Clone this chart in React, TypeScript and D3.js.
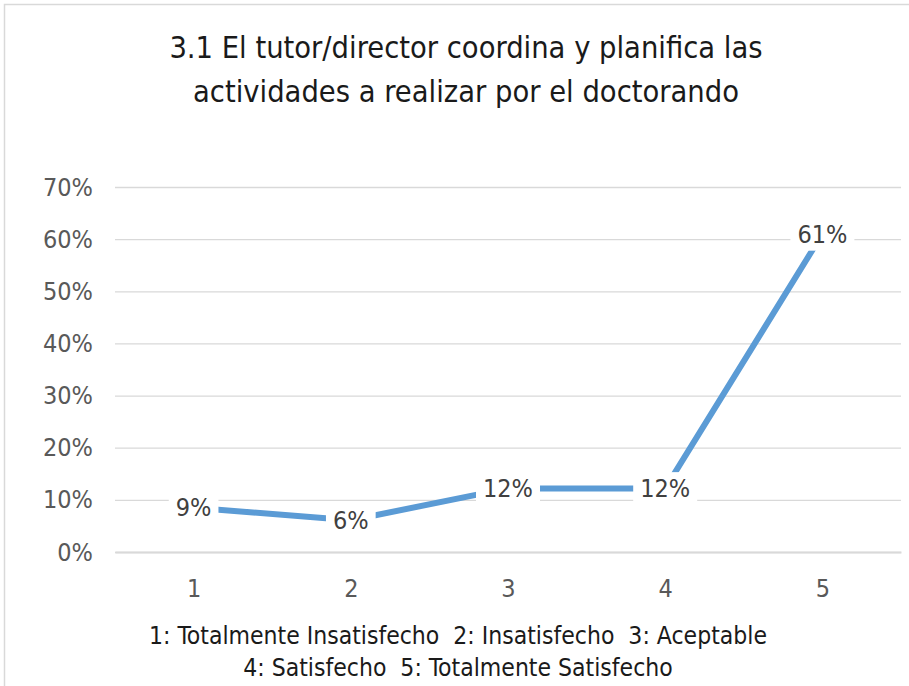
import { useEffect, useRef } from 'react'
import * as d3 from 'd3'

const categories = ['1', '2', '3', '4', '5']
const values = [0.085, 0.061, 0.122, 0.122, 0.61]
const valueLabels = ['9%', '6%', '12%', '12%', '61%']
const yTicks = [0, 0.1, 0.2, 0.3, 0.4, 0.5, 0.6, 0.7]
const titleLines = ['3.1 El tutor/director coordina y planifica las', 'actividades a realizar por el doctorando']
const captionLines = ['1: Totalmente Insatisfecho  2: Insatisfecho  3: Aceptable', '4: Satisfecho  5: Totalmente Satisfecho']

const FONT = '"DejaVu Sans Condensed", "Liberation Sans Narrow", "Liberation Sans", sans-serif'

export default function App() {
  const svgRef = useRef<SVGSVGElement>(null)
  const width = 909
  const height = 686

  useEffect(() => {
    if (!svgRef.current) return
    const svg = d3.select(svgRef.current)
    svg.selectAll('*').remove()

    const margin = { top: 187, right: 8, bottom: 134, left: 115 }
    const innerW = width - margin.left - margin.right
    const innerH = height - margin.top - margin.bottom

    // chart frame
    svg.append('rect')
      .attr('x', 4.5).attr('y', 4.5)
      .attr('width', width + 20).attr('height', height + 20)
      .attr('fill', '#fff').attr('stroke', '#d9d9d9').attr('stroke-width', 1.5)

    // Title
    svg.append('g').selectAll('text').data(titleLines).join('text')
      .attr('x', 466).attr('y', (d, i) => 58 + i * 44)
      .attr('text-anchor', 'middle')
      .attr('font-family', FONT).attr('font-size', 30.5)
      .attr('fill', '#1a1a1a')
      .text(d => d)

    const g = svg.append('g').attr('transform', `translate(${margin.left},${margin.top})`)

    const x = d3.scalePoint().domain(categories).range([0, innerW]).padding(0.5)
    const y = d3.scaleLinear().domain([0, 0.7]).range([innerH, 0])

    // Grid
    g.append('g')
      .call(d3.axisLeft(y).tickValues(yTicks).tickSize(-innerW).tickFormat(d3.format('.0%')))
      .call(a => a.select('.domain').remove())
      .call(a => a.selectAll('line').attr('stroke', '#d9d9d9').attr('stroke-width', 1.3))
      .call(a => a.selectAll('text')
        .attr('x', -22)
        .attr('fill', '#595959').attr('font-size', 25).attr('font-family', FONT))

    // X axis
    g.append('g')
      .attr('transform', `translate(0,${innerH})`)
      .call(d3.axisBottom(x).tickSize(0))
      .call(a => a.select('.domain').attr('stroke', '#d9d9d9').attr('stroke-width', 2))
      .call(a => a.selectAll('text')
        .attr('dy', 0).attr('y', 45)
        .attr('fill', '#595959').attr('font-size', 25).attr('font-family', FONT))

    // Line
    const line = d3.line<number>()
      .x((d, i) => x(categories[i]) as number)
      .y(d => y(d))
    g.append('path')
      .datum(values)
      .attr('d', line)
      .attr('fill', 'none')
      .attr('stroke', '#5b9bd5')
      .attr('stroke-width', 6)
      .attr('stroke-linejoin', 'round')

    // Data labels
    const lab = g.append('g').selectAll('g').data(values).join('g')
      .attr('transform', (d, i) => `translate(${x(categories[i])},${y(d)})`)
    lab.append('text')
      .attr('text-anchor', 'middle').attr('dy', '0.35em')
      .attr('font-family', FONT).attr('font-size', 25)
      .attr('fill', '#404040')
      .text((d, i) => valueLabels[i])
    lab.each(function () {
      const grp = d3.select(this)
      const t = grp.select('text').node() as SVGTextElement
      const bb = t.getBBox()
      grp.insert('rect', 'text')
        .attr('x', bb.x - 7).attr('y', bb.y - 2)
        .attr('width', bb.width + 14).attr('height', bb.height + 4)
        .attr('fill', '#fff')
    })

    // Caption
    svg.append('g').selectAll('text').data(captionLines).join('text')
      .attr('x', 458).attr('y', (d, i) => 644 + i * 32)
      .attr('text-anchor', 'middle')
      .attr('font-family', FONT).attr('font-size', 24.5)
      .attr('fill', '#1a1a1a')
      .style('white-space', 'pre')
      .text(d => d)
  }, [])

  return (
    <svg ref={svgRef} width={width} height={height}
      style={{ position: 'absolute', left: 0, top: 0, background: '#fff' }} />
  )
}
